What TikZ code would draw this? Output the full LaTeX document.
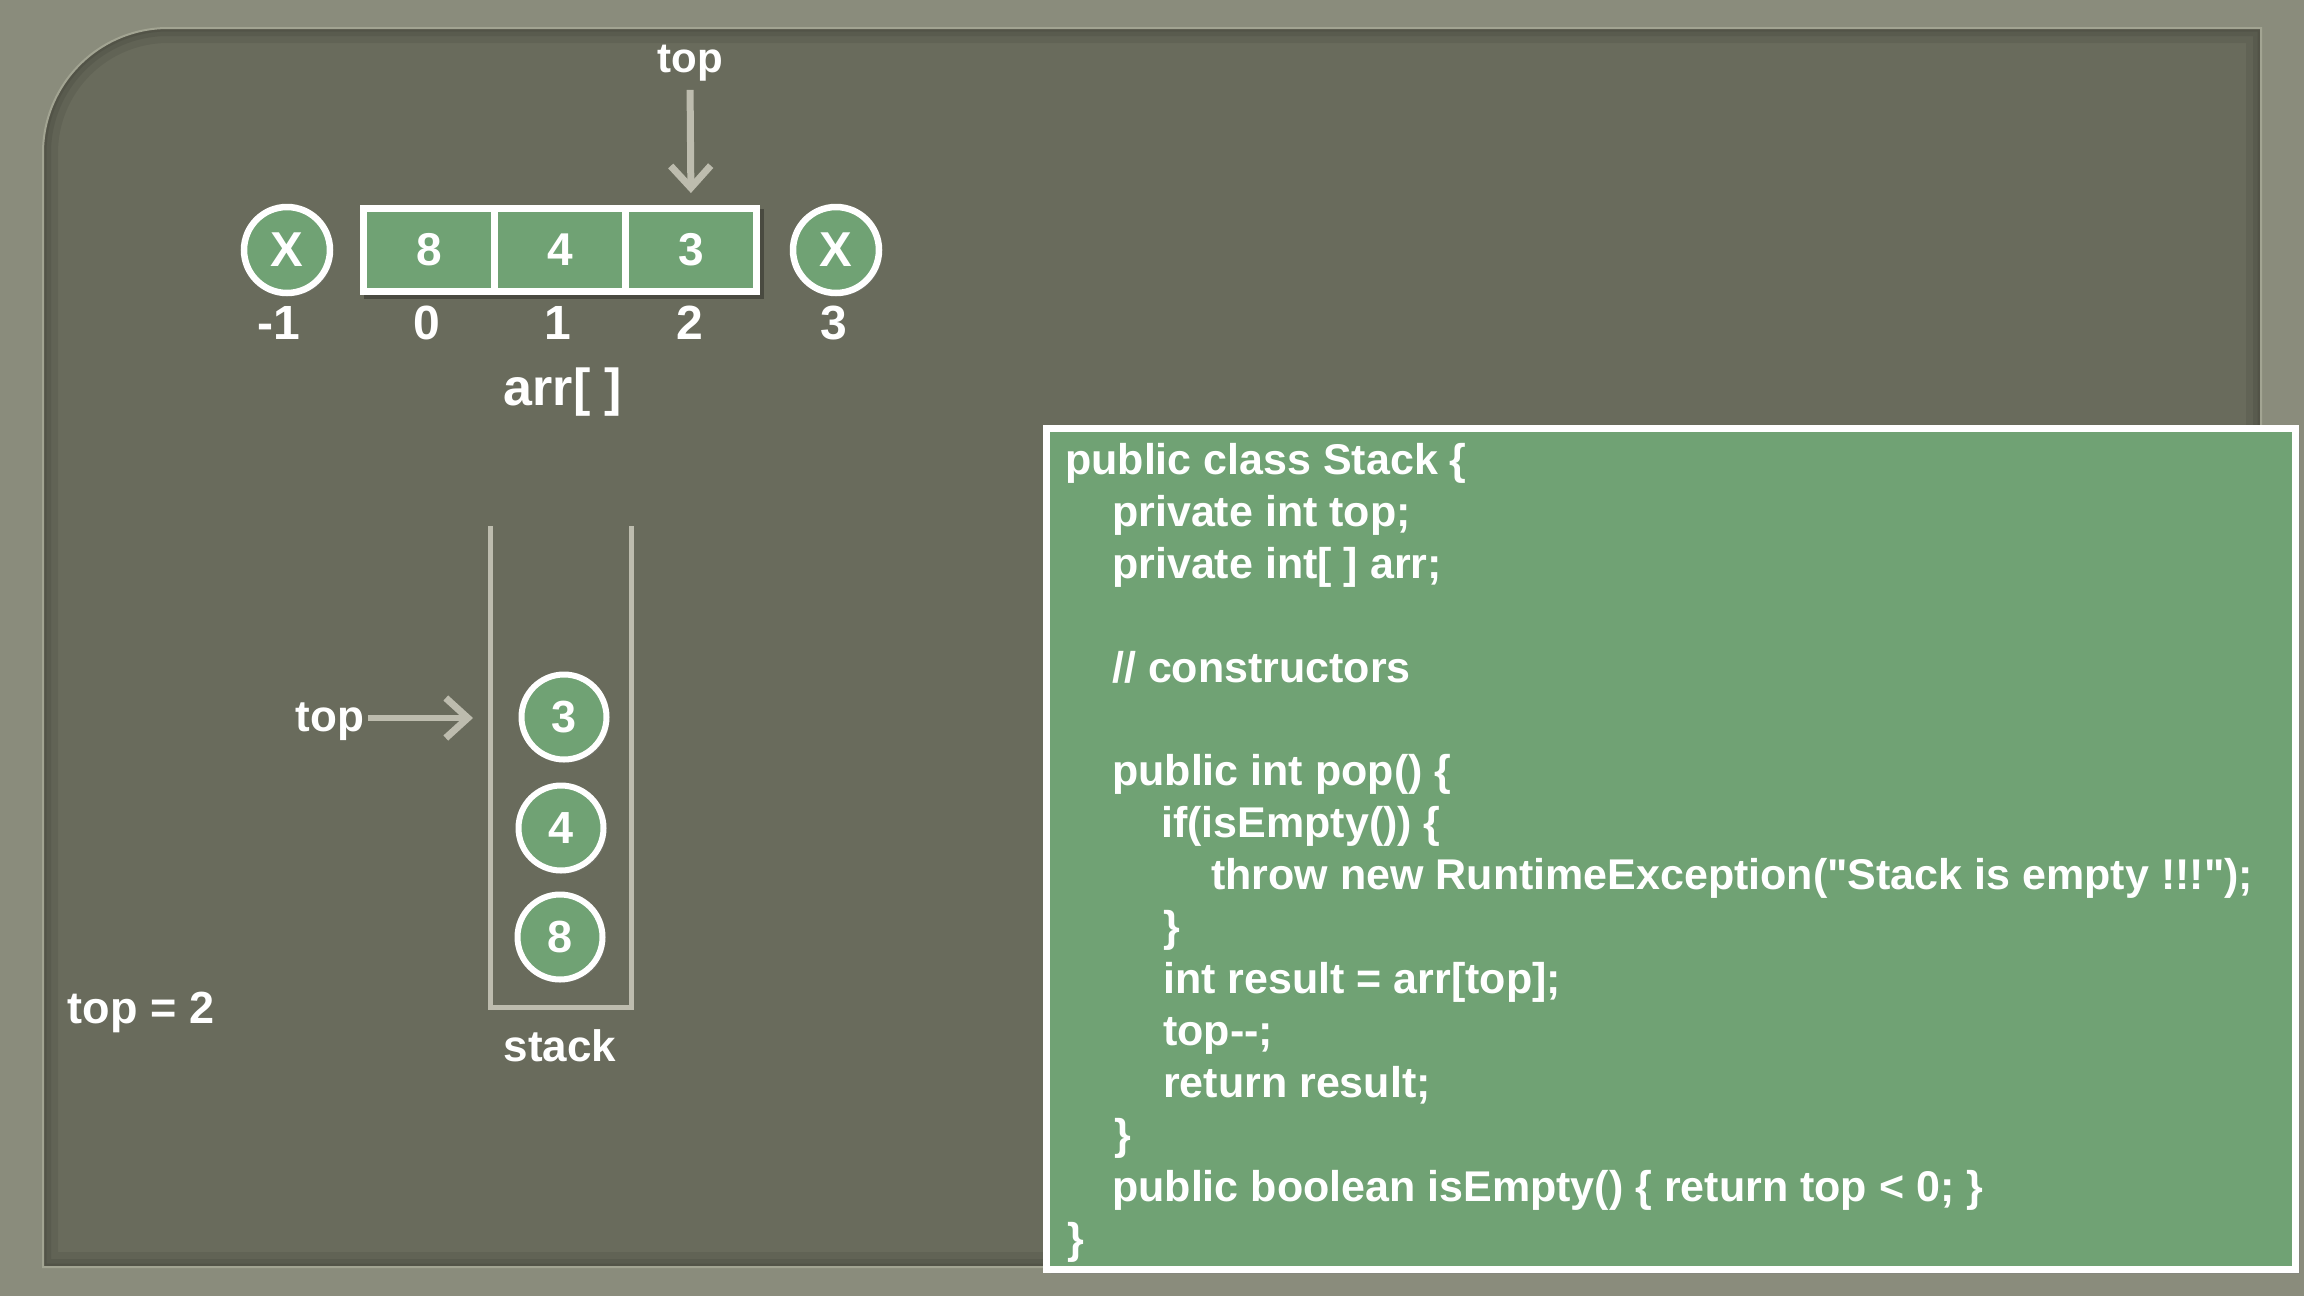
\documentclass[tikz,border=0pt]{standalone}
\usepackage{fontspec}
\setmainfont{Liberation Sans}[Ligatures=TeXOff]
\usetikzlibrary{arrows.meta,shadows}
\definecolor{outerbg}{HTML}{8A8C7C}
\definecolor{panelc}{HTML}{696B5C}
\definecolor{paneledge}{HTML}{A2A492}
\definecolor{grn}{HTML}{70A274}
\definecolor{arrowgrey}{HTML}{BDBCAE}
\def\pnlpath{(43,1267) -- (43,153) .. controls (43,84) and (99,28) .. (168,28) -- (2261,28) -- (2261,1267) -- cycle}
\begin{document}
\begin{tikzpicture}[x=1pt,y=-1pt,
  lbl/.style={text=white, inner sep=0pt, font=\fontsize{44}{50}\selectfont\bfseries},
  idx/.style={text=white, inner sep=0pt, font=\fontsize{48}{52}\selectfont\bfseries},
  xc/.style={circle, draw=white, line width=6.5pt, fill=grn, minimum size=86pt, inner sep=0pt,
    text=white, font=\fontsize{49}{52}\selectfont\bfseries,
    drop shadow={opacity=0.35, shadow xshift=3pt, shadow yshift=-3pt}},
  sc/.style={xc, minimum size=85pt, line width=6pt, font=\fontsize{45}{50}\selectfont\bfseries},
  cell/.style={rectangle, draw=white, line width=7pt, fill=grn, minimum width=131pt,
    minimum height=83pt, inner sep=0pt, text=white, font=\fontsize{46}{50}\selectfont\bfseries},
  arr/.style={draw=arrowgrey, line width=7pt,
    -{Straight Barb[length=22pt, width=40pt, line width=7pt]}},
  codeln/.style={anchor=base west, inner sep=0pt, text=white, font=\fontsize{43}{52}\selectfont\bfseries},
  codebox/.style={rectangle, draw=white, line width=7pt, fill=grn, minimum width=1249pt,
    minimum height=841pt, inner sep=0pt, drop shadow={opacity=0.35, shadow xshift=4pt, shadow yshift=-4pt}},
  wall/.style={draw=arrowgrey, line width=5pt}
]
\path[use as bounding box, fill=outerbg] (0,0) rectangle (2304,1296);
% panel
\fill[panelc] \pnlpath;
\begin{scope}
  \clip \pnlpath;
  \draw[black, opacity=0.07, line width=30pt] \pnlpath;
  \draw[black, opacity=0.08, line width=16pt] \pnlpath;
  \draw[black, opacity=0.08, line width=7pt] \pnlpath;
\end{scope}
\draw[paneledge, line width=2pt] \pnlpath;

% array
\fill[black, opacity=0.3] (364,209) rectangle (764,299);
\node[xc] (xl) at (287,250) {X};
\node[cell] (a0) at (429,250) {8};
\node[cell] (a1) at (560,250) {4};
\node[cell] (a2) at (691,250) {3};
\node[xc] (xr) at (836,250) {X};
\node[idx] (im1) at (279,323) {-1};
\node[idx] (i0) at (427,323) {0};
\node[idx] (i1) at (558,323) {1};
\node[idx] (i2) at (690,323) {2};
\node[idx] (i3) at (834,323) {3};
\node[lbl, font=\fontsize{52}{56}\selectfont\bfseries] (arrname) at (563,392) {arr[ ]};
\node[lbl, anchor=base, font=\fontsize{42}{48}\selectfont\bfseries] (toplbl) at (690,72) {top};
\draw[arr, shorten <=9pt, shorten >=12pt] (toplbl.south) -- (a2.north);

% stack
\coordinate (wtl) at (490,526);
\coordinate (wbl) at (490,1007);
\coordinate (wbr) at (631,1007);
\coordinate (wtr) at (631,526);
\draw[wall] (wtl) -- (wbl) -- (wbr) -- (wtr);
\node[sc] (s3) at (564,717) {3};
\node[sc] (s4) at (561,828) {4};
\node[sc] (s8) at (560,937) {8};
\node[lbl, anchor=base] (stklbl) at (560,1061) {stack};
\node[lbl, anchor=base] (stop) at (330,731) {top};
\coordinate (htip) at (473,718);
\draw[arr, line width=6pt, shorten <=4pt] (stop.east |- htip) -- (htip);
\node[lbl, anchor=base, font=\fontsize{45}{50}\selectfont\bfseries] (topeq) at (141,1023) {top = 2};

% code
\node[codebox] (code) at (1671,849) {};
\node[codeln] (c1) at (1065,474.5) {public class Stack \{};
\node[codeln] (c2) at (1112,526.4) {private int top;};
\node[codeln] (c3) at (1112,578.3) {private int[ ] arr;};
\node[codeln] (c5) at (1112,682.1) {// constructors};
\node[codeln] (c7) at (1112,785.9) {public int pop() \{};
\node[codeln] (c8) at (1161,837.8) {if(isEmpty()) \{};
\node[codeln] (c9) at (1211,889.7) {throw new RuntimeException("Stack is empty !!!");};
\node[codeln] (c10) at (1163,941.6) {\}};
\node[codeln] (c11) at (1163,993.5) {int result = arr[top];};
\node[codeln] (c12) at (1163,1045.4) {top--;};
\node[codeln] (c13) at (1163,1097.3) {return result;};
\node[codeln] (c14) at (1114,1149.2) {\}};
\node[codeln] (c15) at (1112,1201.1) {public boolean isEmpty() \{ return top < 0; \}};
\node[codeln] (c16) at (1067,1253.0) {\}};
\end{tikzpicture}
\end{document}
